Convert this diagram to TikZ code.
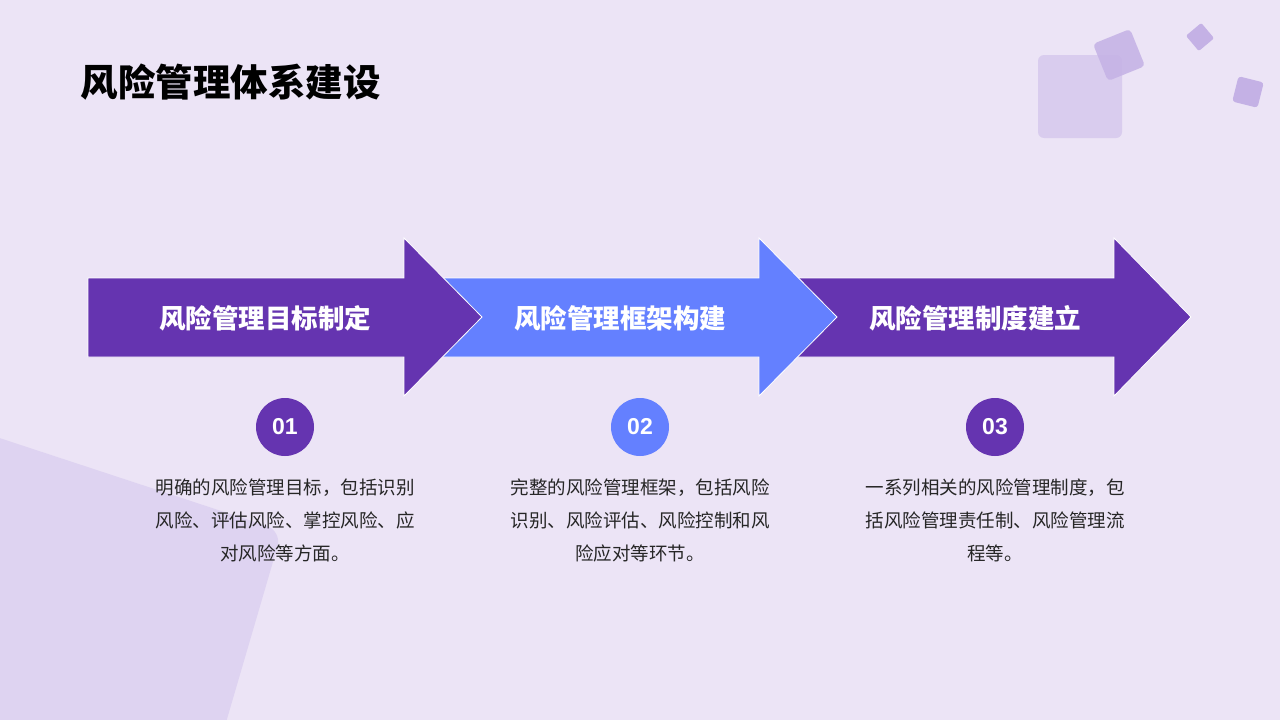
\documentclass[tikz,border=0pt]{standalone}
\usepackage{fontspec}
\setmainfont{Noto Sans CJK SC}
\newfontfamily\numfont{Liberation Sans}
\definecolor{bgc}{HTML}{ECE4F6}
\definecolor{polyc}{HTML}{DED3F1}
\definecolor{darkp}{HTML}{6534B0}
\definecolor{bluep}{HTML}{6480FF}
\definecolor{decoA}{HTML}{D9CCEE}
\definecolor{decoB}{HTML}{C4B1E5}
\definecolor{txt}{HTML}{262626}
\tikzset{
  arrowshape/.style={draw=white, line width=0.8pt},
  arrlabel/.style={text=white, font=\fontsize{26.5}{30}\selectfont\bfseries, anchor=center},
  numcircle/.style={circle, minimum size=58pt, inner sep=0pt, text=white, font=\numfont\fontsize{23}{26}\selectfont\bfseries},
  desc/.style={text=txt, align=center, font=\fontsize{18.5}{33}\selectfont, anchor=north},
}
\begin{document}
\begin{tikzpicture}[x=1pt,y=-1pt]
\useasboundingbox (0,0) rectangle (1280,720);
\fill[bgc] (0,0) rectangle (1280,720);
% bottom-left polygon
\begin{scope}
\clip (0,0) rectangle (1280,720);
\fill[polyc, rounded corners=16pt] (-40,425) -- (282,531) -- (215,760) -- (-40,760) -- cycle;
\end{scope}
% top-right decorations
\fill[decoA, rounded corners=6pt] (1038,55) rectangle (1122,138);
\fill[decoB, opacity=0.85, rounded corners=4pt, rotate around={22:(1119,55)}] (1099,35) rectangle (1139,75);
\fill[decoB, rounded corners=2pt, rotate around={40:(1200,37)}] (1190,27) rectangle (1210,47);
\fill[decoB, rounded corners=3pt, rotate around={-14:(1248,92)}] (1235,79) rectangle (1261,105);
% title
\node[anchor=west, font=\fontsize{37.5}{40}\selectfont\bfseries, text=black] (title) at (77,82) {风险管理体系建设};
% arrows (drawn back to front)
\draw[arrowshape, fill=darkp] (775,278) -- (1114,278) -- (1114,238) -- (1191,317) -- (1114,396) -- (1114,357) -- (775,357) -- cycle;
\draw[arrowshape, fill=bluep] (420,278) -- (759,278) -- (759,238) -- (837,317) -- (759,396) -- (759,357) -- (420,357) -- cycle;
\draw[arrowshape, fill=darkp] (88,278) -- (404,278) -- (404,238) -- (482,317) -- (404,396) -- (404,357) -- (88,357) -- cycle;
\node[arrlabel] (l1) at (265,318) {风险管理目标制定};
\node[arrlabel] (l2) at (620,318) {风险管理框架构建};
\node[arrlabel] (l3) at (975,318) {风险管理制度建立};
% number circles
\node[numcircle, fill=darkp] (c1) at (285,427) {01};
\node[numcircle, fill=bluep] (c2) at (640,427) {02};
\node[numcircle, fill=darkp] (c3) at (995,427) {03};
% descriptions
\node[desc] (d1) at (285,475) {明确的风险管理目标，包括识别\\风险、评估风险、掌控风险、应\\对风险等方面。};
\node[desc] (d2) at (640,475) {完整的风险管理框架，包括风险\\识别、风险评估、风险控制和风\\险应对等环节。};
\node[desc] (d3) at (995,475) {一系列相关的风险管理制度，包\\括风险管理责任制、风险管理流\\程等。};
\end{tikzpicture}
\end{document}
